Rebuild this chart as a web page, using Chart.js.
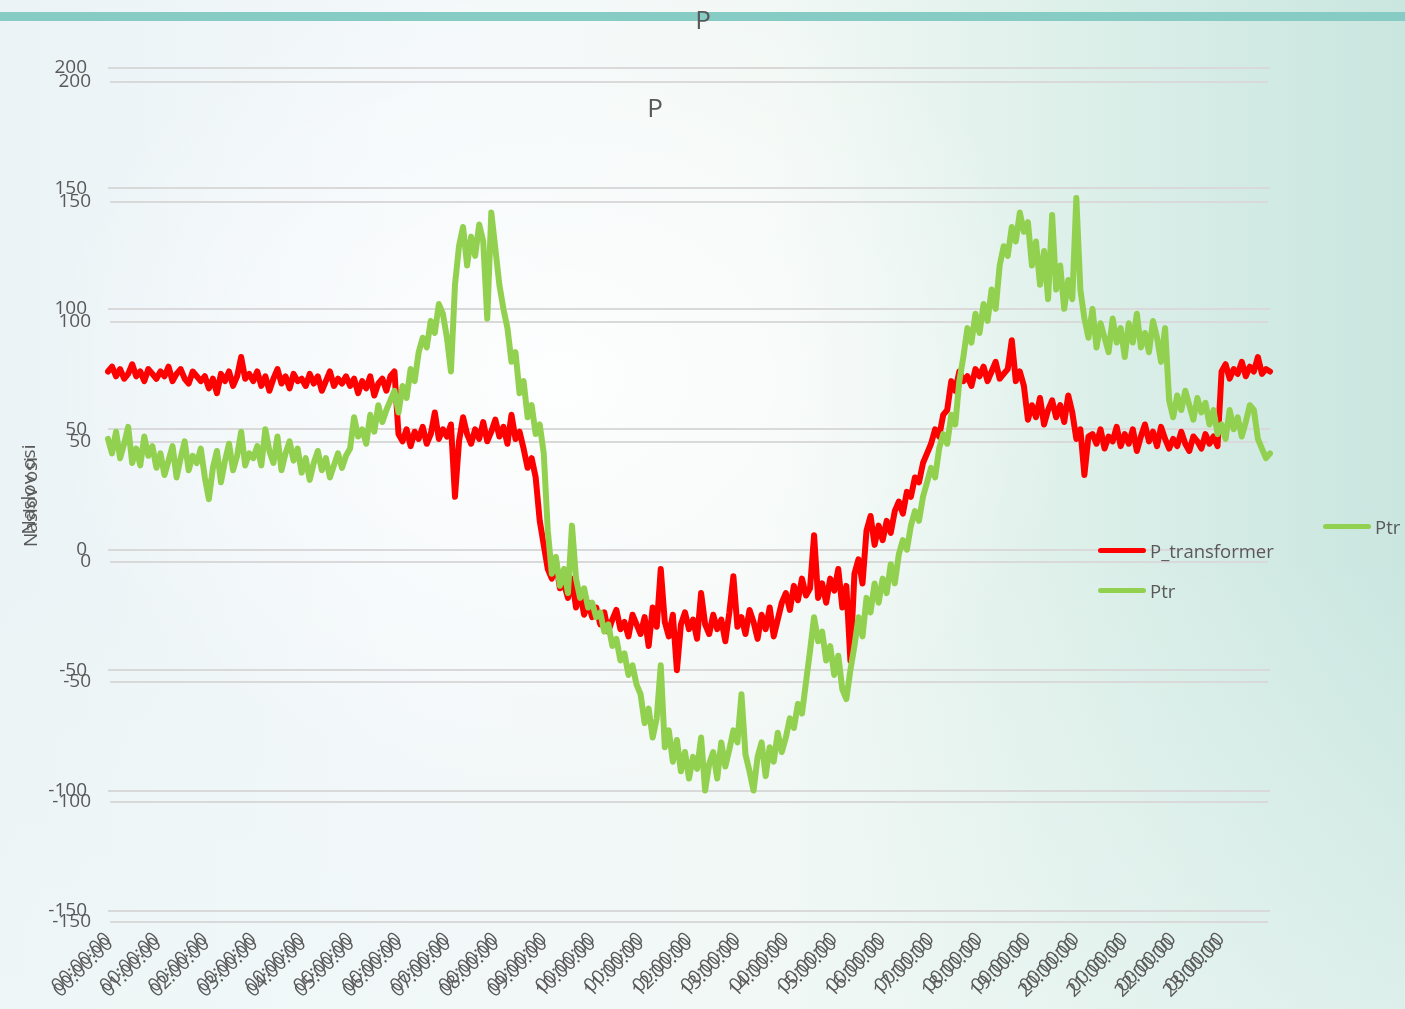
<!DOCTYPE html>
<html>
<head>
<meta charset="utf-8">
<script src="https://cdn.jsdelivr.net/npm/chart.js@4.4.1/dist/chart.umd.min.js"></script>
<style>
  html, body { margin: 0; padding: 0; }
  body {
    width: 1405px; height: 1009px; position: relative; overflow: hidden;
    font-family: 'Open Sans', sans-serif; color: #595959;
    background:
      radial-gradient(ellipse 520px 420px at 560px 380px, rgba(255,255,255,0.85), rgba(255,255,255,0) 100%),
      linear-gradient(180deg, rgba(255,255,255,0) 55%, rgba(240,248,246,0.5) 100%),
      linear-gradient(90deg, #ebf3f6 0%, #f3f8fa 30%, #f2f8f5 55%, #dcefe9 78%, #c9e6df 100%);
  }
  .stripe { position: absolute; left: 0; top: 12px; width: 1405px; height: 9px; background: #86cbc4; }
  canvas { position: absolute; left: 0; top: 0; }
  .title { position: absolute; font-size: 26px; line-height: 30px; text-align: center; width: 100px; }
  .legend { position: absolute; font-size: 18.5px; }
  .legend div { display: flex; align-items: center; height: 40px; }
  .legend span.ln { display: inline-block; width: 48px; height: 5px; border-radius: 3px; margin-right: 4px; }
</style>
</head>
<body>
<div class="stripe"></div>
<canvas id="chartB" width="1405" height="1009"></canvas>
<canvas id="chartA" width="1405" height="1009"></canvas>
<div class="title" style="left:653px; top:4px;">P</div>
<div class="title" style="left:605px; top:92px;">P</div>
<div class="legend" style="left:1323px; top:506px;">
  <div><span class="ln" style="background:#92d050"></span>Ptr</div>
</div>
<div class="legend" style="left:1098px; top:530px;">
  <div><span class="ln" style="background:#ff0000"></span>P_transformer</div>
  <div><span class="ln" style="background:#92d050"></span>Ptr</div>
</div>
<script>
// hour tick labels (two overlapping copies of the axis)
const hourLabels = ['00:00:00','01:00:00','02:00:00','03:00:00','04:00:00','05:00:00','06:00:00','07:00:00',
  '08:00:00','09:00:00','10:00:00','11:00:00','12:00:00','13:00:00','14:00:00','15:00:00',
  '16:00:00','17:00:00','18:00:00','19:00:00','20:00:00','21:00:00','22:00:00','23:00:00'];
const dayLabel = '00:00:00';
const pointsPerHour = 12; // one reading every 5 min

// one row per hour, last value is 24:00
const pTransformer = [
  74, 76, 72, 75, 71, 73, 77, 72, 74, 70, 75, 73,
  71, 74, 72, 76, 70, 73, 75, 71, 69, 74, 72, 70,
  72, 67, 71, 65, 73, 70, 74, 68, 72, 80, 71, 73,
  70, 74, 68, 72, 66, 71, 75, 69, 72, 67, 73, 70,
  71, 68, 73, 69, 72, 66, 70, 74, 68, 71, 69, 72,
  68, 71, 65, 70, 67, 72, 64, 69, 71, 66, 72, 74,
  48, 45, 50, 43, 49, 46, 51, 44, 48, 57, 46, 50,
  47, 52, 22, 45, 55, 48, 44, 50, 46, 53, 45, 49,
  54, 47, 51, 44, 56, 46, 49, 42, 34, 38, 30, 12,
  2, -8, -12, -5, -16, -14, -20, -12, -24, -18, -27, -22,
  -28, -24, -31, -26, -34, -29, -25, -33, -30, -36, -27, -31,
  -35, -28, -40, -24, -32, -8, -30, -36, -27, -50, -31, -26,
  -33, -29, -37, -18, -31, -35, -27, -33, -29, -38, -26, -11,
  -32, -28, -35, -25, -30, -37, -27, -33, -24, -36, -29, -22,
  -18, -25, -15, -21, -12, -19, -16, 6, -20, -14, -22, -12,
  -17, -8, -24, -15, -46, -10, -4, -14, 8, 14, 2, 10,
  4, 12, 7, 16, 20, 15, 24, 22, 30, 28, 36, 40,
  44, 50, 47, 56, 58, 70, 66, 74, 70, 72, 68, 75,
  72, 76, 70, 74, 78, 71, 73, 75, 87, 70, 74, 68,
  54, 60, 55, 63, 52, 58, 62, 55, 60, 53, 64, 57,
  46, 50, 31, 47, 48, 44, 50, 42, 47, 45, 51, 43,
  48, 44, 50, 41, 47, 52, 45, 49, 43, 51, 46, 42,
  46, 43, 49, 44, 41, 47, 45, 42, 48, 44, 47, 43,
  74, 77, 71, 75, 73, 78, 72, 76, 74, 80, 73, 75,
  74
];

const ptr = [
  46, 40, 49, 38, 44, 51, 36, 42, 35, 47, 39, 43,
  34, 40, 31, 37, 43, 30, 38, 45, 33, 39, 36, 42,
  30, 21, 34, 41, 28, 37, 44, 33, 39, 49, 35, 40,
  38, 43, 35, 50, 41, 36, 47, 33, 40, 45, 37, 42,
  32, 38, 29, 36, 41, 33, 38, 30, 35, 40, 34, 39,
  42, 55, 47, 50, 44, 56, 49, 60, 53, 58, 62, 66,
  57, 68, 63, 75, 70, 82, 88, 84, 95, 90, 102, 98,
  88, 74, 110, 126, 134, 118, 130, 122, 135, 128, 96, 140,
  125, 110, 100, 92, 78, 82, 65, 70, 55, 60, 48, 52,
  40, 8, -10, -3, -15, -8, -18, 10, -12, -20, -16, -24,
  -22, -28, -26, -34, -31, -40, -37, -46, -43, -52, -48, -56,
  -60, -72, -66, -78, -70, -48, -82, -75, -88, -79, -92, -84,
  -95, -86, -91, -78, -100, -89, -84, -95, -80, -90, -83, -75,
  -80, -60, -85, -92, -100, -86, -80, -94, -82, -88, -76, -84,
  -78, -70, -74, -64, -68, -55, -42, -28, -38, -34, -46, -40,
  -52, -44, -58, -62, -50, -40, -28, -36, -20, -26, -14, -22,
  -12, -18, -6, -14, -2, 4, 0, 10, 16, 12, 22, 28,
  34, 30, 42, 48, 44, 56, 52, 70, 80, 92, 86, 98,
  90, 102, 95, 108, 100, 118, 126, 122, 134, 128, 140, 132,
  136, 118, 128, 110, 124, 104, 139, 108, 118, 100, 112, 104,
  146, 108, 96, 88, 100, 84, 94, 88, 82, 96, 86, 92,
  80, 94, 86, 98, 84, 90, 82, 95, 88, 78, 92, 62,
  55, 64, 58, 66, 60, 54, 63, 57, 61, 52, 58, 48,
  52, 46, 58, 50, 55, 47, 53, 60, 58, 46, 42, 38,
  40
];

const labels = pTransformer.map((v, i) => i);
const tickFont = { family: 'Open Sans', size: 19 };

function makeScales(o) {
  return {
    x: {
      type: 'category',
      grid: { display: false, drawTicks: false },
      border: { display: false },
      ticks: {
        autoSkip: false, minRotation: 45, maxRotation: 45,
        padding: o.xPad, color: '#595959', font: tickFont,
        callback: (v, i) => (i % pointsPerHour === 0 && i / pointsPerHour < 24) ? o.xLabel(i / pointsPerHour) : null
      },
      afterFit: s => { s.height = o.xHeight; }
    },
    y: {
      min: -150, max: 200,
      grid: { color: '#d9d9d9', lineWidth: 2, drawTicks: false },
      border: { display: false },
      ticks: { stepSize: 50, padding: o.yPad, color: '#595959', font: tickFont },
      title: { display: true, text: 'Naslov osi', color: '#595959', font: tickFont, padding: { top: o.titlePad } },
      afterFit: s => { s.width = o.yWidth; }
    }
  };
}

const common = {
  responsive: false,
  animation: false,
  plugins: { legend: { display: false }, title: { display: false }, tooltip: { enabled: false } },
  elements: { point: { radius: 0 }, line: { tension: 0, borderJoinStyle: 'round', borderCapStyle: 'round' } }
};

// second (shifted) copy of the axes, no data
new Chart(document.getElementById('chartB'), {
  type: 'line',
  data: { labels: labels, datasets: [] },
  options: Object.assign({}, common, {
    layout: { padding: { top: 82, right: 137, left: 0, bottom: 0 } },
    scales: makeScales({ xPad: 11, xHeight: 87, yPad: 19, yWidth: 110, titlePad: 20, xLabel: h => hourLabels[h] })
  })
});

// main chart with the two series
new Chart(document.getElementById('chartA'), {
  type: 'line',
  data: {
    labels: labels,
    datasets: [
      { label: 'P_transformer', data: pTransformer, borderColor: '#ff0000', borderWidth: 6, order: 2 },
      { label: 'Ptr', data: ptr, borderColor: '#92d050', borderWidth: 6, order: 1 }
    ]
  },
  options: Object.assign({}, common, {
    layout: { padding: { top: 68, right: 135, left: 0, bottom: 0 } },
    scales: makeScales({ xPad: 17, xHeight: 98, yPad: 21, yWidth: 108, titlePad: 18, xLabel: h => dayLabel })
  })
});
</script>
</body>
</html>
